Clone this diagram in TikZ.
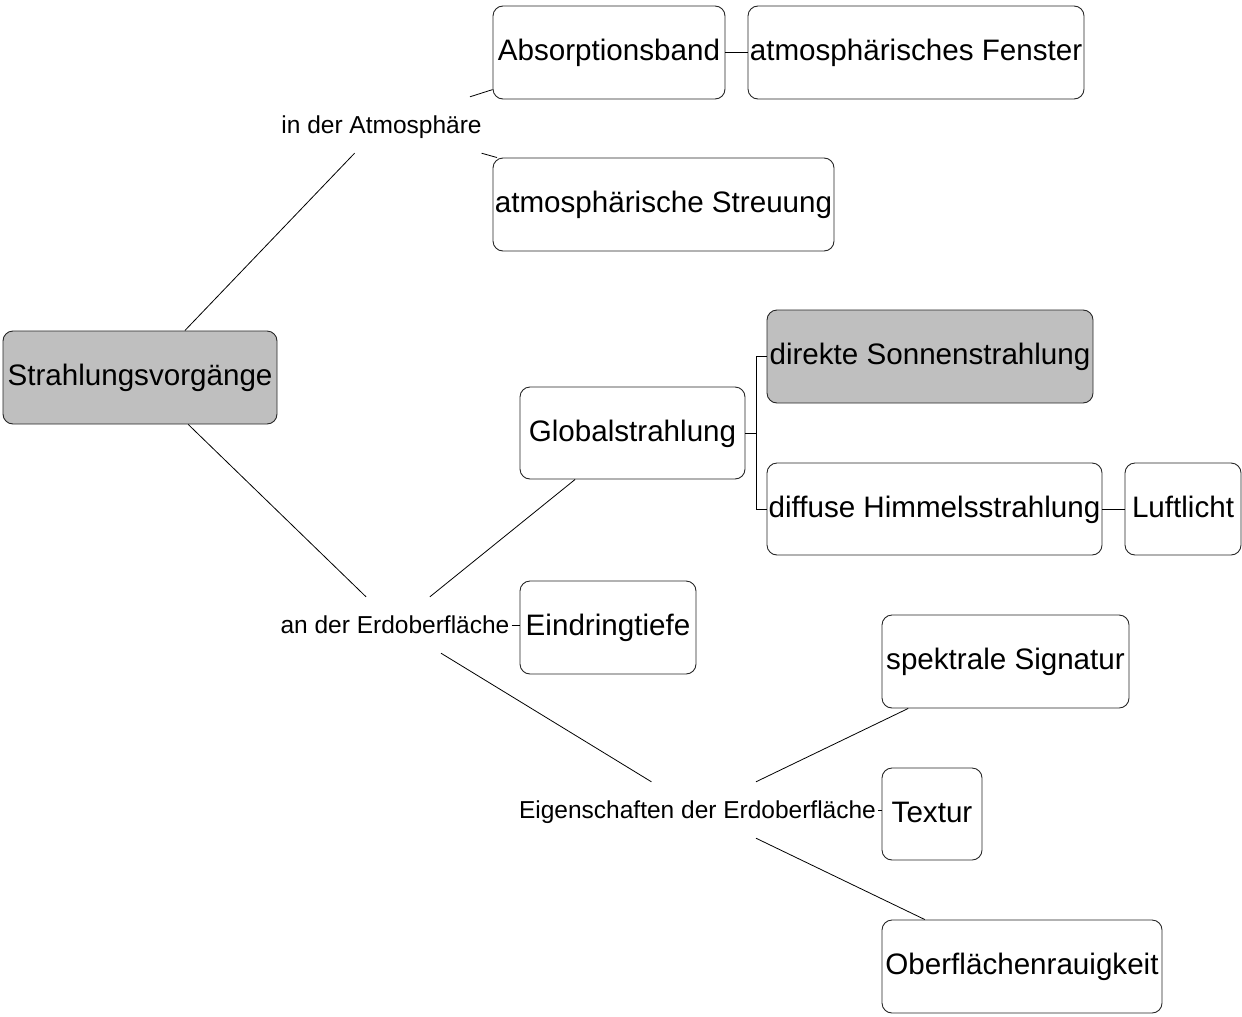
\documentclass[tikz,border=0pt]{standalone}
\usepackage{fontspec}
\setmainfont{Liberation Sans}
\begin{document}
\begin{tikzpicture}[x=1pt,y=-1pt,
  box/.style={draw=black!85, line width=0.9pt, rounded corners=10pt, fill=white,
    inner sep=0pt, text height=21pt, text depth=5pt,
    font=\fontsize{29.6}{34}\selectfont},
  hi/.style={box, fill=black!25},
  lbl/.style={inner xsep=2pt, inner ysep=0pt, minimum height=56pt,
    text height=17.5pt, text depth=0pt,
    font=\fontsize{24.5}{29}\selectfont},
  link/.style={draw=black, line width=0.8pt}]
\useasboundingbox (0,0) rectangle (1242,1017);

% main topic
\node[hi, minimum width=274pt, minimum height=93pt] (strahl) at (140,377.5) {Strahlungsvorgänge};

% atmosphere branch
\node[lbl] (atm) at (381.5,125) {in der Atmosphäre};
\node[box, minimum width=232pt, minimum height=93pt] (absorp) at (609,52.5) {Absorptionsband};
\node[box, minimum width=336pt, minimum height=93pt] (fenster) at (916,52.5) {atmosphärisches Fenster};
\node[box, minimum width=341pt, minimum height=93pt] (streu) at (663.5,204.5) {atmosphärische Streuung};

% surface branch
\node[lbl] (erd) at (395,625) {an der Erdoberfläche};
\node[box, minimum width=225pt, minimum height=92pt] (global) at (632.5,433) {Globalstrahlung};
\node[hi, minimum width=326pt, minimum height=93pt] (direkt) at (930,356.5) {direkte Sonnenstrahlung};
\node[box, minimum width=335pt, minimum height=92pt] (diffus) at (934.5,509) {diffuse Himmelsstrahlung};
\node[box, minimum width=116pt, minimum height=92pt] (luft) at (1183,509) {Luftlicht};
\node[box, minimum width=176pt, minimum height=93pt] (eindring) at (608,627.5) {Eindringtiefe};

% surface properties
\node[lbl] (eig) at (697.5,810) {Eigenschaften der Erdoberfläche};
\node[box, minimum width=247pt, minimum height=93pt] (spektral) at (1005.5,661.5) {spektrale Signatur};
\node[box, minimum width=100pt, minimum height=92pt] (textur) at (932,814) {Textur};
\node[box, minimum width=280pt, minimum height=93pt] (ober) at (1022,966.5) {Oberflächenrauigkeit};

% connectors
\draw[link] (strahl) -- (atm);
\draw[link] (atm) -- (absorp);
\draw[link] (atm) -- (streu);
\draw[link] (absorp) -- (fenster);
\draw[link] (strahl) -- (erd);
\draw[link] (erd) -- (global);
\draw[link] (erd.east) -- (eindring.west |- erd.east);
\draw[link] (global.east) -- ++(11,0) |- (direkt.west);
\draw[link] (global.east) -- ++(11,0) |- (diffus.west);
\draw[link] (diffus) -- (luft);
\draw[link] (erd) -- (eig);
\draw[link] (eig) -- (spektral);
\draw[link] (eig.east) -- (textur.west |- eig.east);
\draw[link] (eig) -- (ober);
\end{tikzpicture}
\end{document}
